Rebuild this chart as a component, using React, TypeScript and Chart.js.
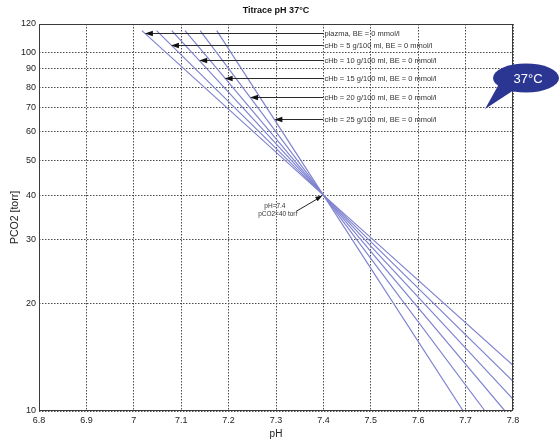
import React, { useEffect, useRef } from 'react';
import { Chart, registerables } from 'chart.js';

Chart.register(...registerables);

// ---- data ----
const seriesLabels = [
  'plazma, BE = 0 mmol/l',
  'cHb = 5 g/100 ml, BE = 0 mmol/l',
  'cHb = 10 g/100 ml, BE = 0 mmol/l',
  'cHb = 15 g/100 ml, BE = 0 mmol/l',
  'cHb = 20 g/100 ml, BE = 0 mmol/l',
  'cHb = 25 g/100 ml, BE = 0 mmol/l',
];
const topPCO2 = 115;
const topPH = [7.017, 7.048, 7.08, 7.108, 7.14, 7.175];
const isoPH = 7.4;
const isoPCO2 = 40;
const bottomPH = [7.8, 7.8, 7.8, 7.783, 7.741, 7.695];
const bottomPCO2 = [13.4, 12.1, 10.8, 10, 10, 10];
const arrowPCO2 = [113, 105, 95, 85, 75, 65];
const labelPH = 7.4;
const isoNoteLines = ['pH=7.4', 'pCO2=40 torr'];
const isoNoteTailPH = 7.342;
const isoNoteTailPCO2 = 36;
const xTicks = [6.8, 6.9, 7.0, 7.1, 7.2, 7.3, 7.4, 7.5, 7.6, 7.7, 7.8];
const yTicks = [10, 20, 30, 40, 50, 60, 70, 80, 90, 100, 120];
const titleText = 'Titrace pH 37°C';
const xTitle = 'pH';
const yTitle = 'PCO2 [torr]';
const bubbleText = '37°C';

const FONT = "'Liberation Sans', Arial, sans-serif";
const LINE_COLOR = 'rgb(128,132,208)';

function arrowHead(ctx: CanvasRenderingContext2D, fx: number, fy: number, tx: number, ty: number, len: number, half: number) {
  const ang = Math.atan2(ty - fy, tx - fx);
  const bx = tx - len * Math.cos(ang);
  const by = ty - len * Math.sin(ang);
  const nx = -Math.sin(ang) * half;
  const ny = Math.cos(ang) * half;
  ctx.beginPath();
  ctx.moveTo(tx, ty);
  ctx.lineTo(bx + nx, by + ny);
  ctx.lineTo(bx - nx, by - ny);
  ctx.closePath();
  ctx.fill();
}

const overlayPlugin = {
  id: 'overlay',
  afterDatasetsDraw(chart: any) {
    const { ctx, chartArea: a, scales } = chart;
    const x = scales.x;
    const y = scales.y;
    ctx.save();
    // axes box
    ctx.strokeStyle = '#3a3a3a';
    ctx.lineWidth = 1;
    ctx.setLineDash([]);
    const l = Math.round(a.left) + 0.5;
    const t = Math.round(a.top) + 0.5;
    const r = Math.round(a.right) - 0.5;
    const b = Math.round(a.bottom) - 0.5;
    ctx.strokeRect(l, t, r - l, b - t);

    // title centred over the axes
    ctx.fillStyle = '#111';
    ctx.font = `bold 9px ${FONT}`;
    ctx.textAlign = 'center';
    ctx.textBaseline = 'middle';
    ctx.fillText(titleText, (a.left + a.right) / 2, a.top - 13);

    // series arrows + labels
    ctx.font = `7.5px ${FONT}`;
    ctx.textAlign = 'left';
    ctx.textBaseline = 'middle';
    seriesLabels.forEach((lab, i) => {
      const p = arrowPCO2[i];
      const f = (Math.log(p) - Math.log(isoPCO2)) / (Math.log(topPCO2) - Math.log(isoPCO2));
      const ph = isoPH + f * (topPH[i] - isoPH);
      const hx = x.getPixelForValue(ph);
      const hy = Math.round(y.getPixelForValue(p)) + 0.5;
      const lx = x.getPixelForValue(labelPH);
      ctx.strokeStyle = '#2a2a2a';
      ctx.fillStyle = '#111';
      ctx.lineWidth = 1;
      ctx.beginPath();
      ctx.moveTo(hx + 4, hy);
      ctx.lineTo(lx, hy);
      ctx.stroke();
      arrowHead(ctx, lx, hy, hx, hy, 8, 2.8);
      ctx.fillStyle = '#333';
      ctx.fillText(lab, lx + 1, hy);
    });

    // iso point note
    const hx = x.getPixelForValue(isoPH);
    const hy = y.getPixelForValue(isoPCO2);
    const tx = x.getPixelForValue(isoNoteTailPH);
    const ty = y.getPixelForValue(isoNoteTailPCO2);
    ctx.strokeStyle = '#222';
    ctx.fillStyle = '#111';
    ctx.beginPath();
    ctx.moveTo(tx, ty);
    ctx.lineTo(hx - 3, hy + 2);
    ctx.stroke();
    arrowHead(ctx, tx, ty, hx - 1, hy + 0.5, 7, 2.5);
    ctx.font = `6.5px ${FONT}`;
    ctx.textAlign = 'center';
    ctx.fillStyle = '#333';
    ctx.fillText(isoNoteLines[0], tx - 21, ty - 5);
    ctx.fillText(isoNoteLines[1], tx - 18, ty + 3);
    ctx.restore();
  },
  afterDraw(chart: any) {
    const { ctx, chartArea: a } = chart;
    ctx.save();
    const cx = a.right + 13;
    const cy = a.top + 54;
    ctx.fillStyle = '#2b3592';
    ctx.beginPath();
    ctx.ellipse(cx, cy, 33, 14.5, 0, 0, Math.PI * 2);
    ctx.fill();
    ctx.beginPath();
    ctx.moveTo(cx - 27, cy + 6);
    ctx.lineTo(cx - 12, cy + 12);
    ctx.lineTo(cx - 41, cy + 31);
    ctx.closePath();
    ctx.fill();
    ctx.fillStyle = '#ffffff';
    ctx.font = `13px ${FONT}`;
    ctx.textAlign = 'center';
    ctx.textBaseline = 'middle';
    ctx.fillText(bubbleText, cx + 2, cy + 1);
    ctx.restore();
  },
};

export default function App() {
  const ref = useRef<HTMLCanvasElement | null>(null);
  useEffect(() => {
    if (!ref.current) return;
    const datasets = seriesLabels.map((lab, i) => ({
      label: lab,
      data: [
        { x: topPH[i], y: topPCO2 },
        { x: isoPH, y: isoPCO2 },
        { x: bottomPH[i], y: bottomPCO2[i] },
      ],
      borderColor: LINE_COLOR,
      backgroundColor: LINE_COLOR,
      borderWidth: 1.2,
      pointRadius: 0,
      tension: 0,
      fill: false,
    }));
    const gridCommon = {
      color: '#4a4a4a',
      lineWidth: 1,
      drawTicks: false,
    };
    const chart = new Chart(ref.current, {
      type: 'line',
      data: { datasets },
      options: {
        animation: false,
        responsive: false,
        maintainAspectRatio: false,
        layout: { padding: { left: 0, right: 46, top: 24, bottom: 0 } },
        plugins: {
          legend: { display: false },
          tooltip: { enabled: false },
          title: { display: false },
        },
        scales: {
          x: {
            type: 'linear',
            min: 6.8,
            max: 7.8,
            afterBuildTicks: (s: any) => {
              s.ticks = xTicks.map((v) => ({ value: v }));
            },
            afterFit: (s: any) => {
              s.height = 33;
            },
            grid: gridCommon,
            border: { display: false, dash: [1.5, 1.5] },
            ticks: {
              autoSkip: false,
              maxRotation: 0,
              padding: 4,
              color: '#222',
              font: { size: 9, family: FONT },
              callback: (v: any) => String(Number(Number(v).toFixed(1))),
            },
            title: {
              display: true,
              text: xTitle,
              color: '#222',
              font: { size: 10, family: FONT },
              padding: { top: 0, bottom: 4 },
            },
          },
          y: {
            type: 'logarithmic',
            min: 10,
            max: 120,
            afterBuildTicks: (s: any) => {
              s.ticks = yTicks.map((v) => ({ value: v }));
            },
            afterFit: (s: any) => {
              s.width = 39;
            },
            grid: gridCommon,
            border: { display: false, dash: [1.5, 1.5] },
            ticks: {
              autoSkip: false,
              padding: 3,
              color: '#222',
              font: { size: 9, family: FONT },
              callback: (v: any) => String(v),
            },
            title: {
              display: true,
              text: yTitle,
              color: '#222',
              font: { size: 10.5, family: FONT },
              padding: { top: 9, bottom: 0 },
            },
          },
        },
      } as any,
      plugins: [overlayPlugin],
    });
    return () => chart.destroy();
  }, []);
  return (
    <div style={{ position: 'fixed', left: 0, top: 0, width: 559, height: 444, background: '#fff' }}>
      <canvas ref={ref} width={559} height={444} style={{ display: 'block', width: 559, height: 444 }} />
    </div>
  );
}
